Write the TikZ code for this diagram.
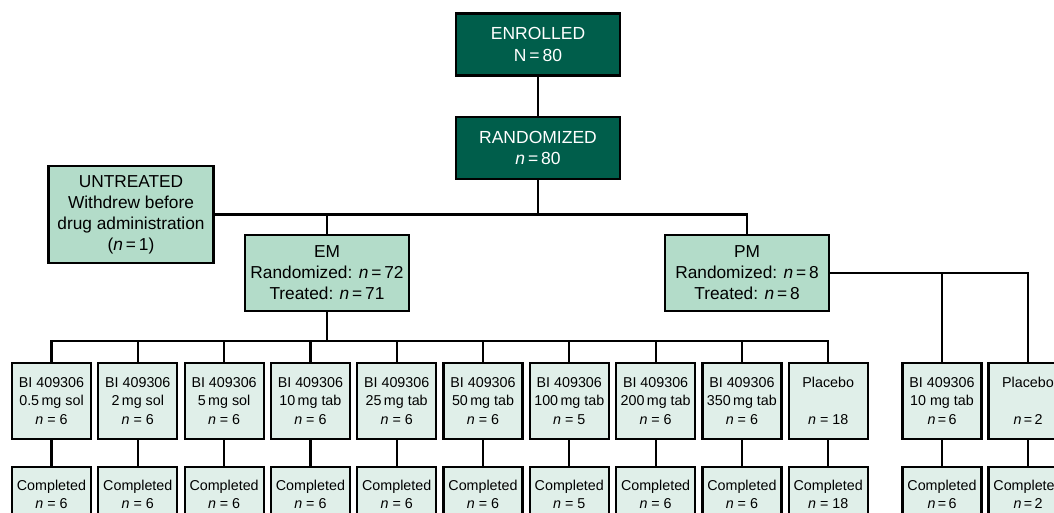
\documentclass[tikz,border=0pt]{standalone}
\usepackage{fontspec}
\setmainfont{Liberation Sans}
\usetikzlibrary{positioning}

\definecolor{dkgreen}{RGB}{0,94,75}
\definecolor{mint}{RGB}{179,220,201}
\definecolor{pale}{RGB}{224,239,233}
\newcommand{\nn}{\textit{n}}

\begin{document}
\begin{tikzpicture}[x=1pt,y=-1pt,line width=2.2pt,
	topbox/.style={draw,fill=dkgreen,text=white,minimum width=164pt,minimum height=62pt,align=center,inner sep=0pt,font=\fontsize{17.5}{21.5}\selectfont},
	groupbox/.style={draw,fill=mint,minimum width=164pt,minimum height=76pt,align=center,inner sep=0pt,font=\fontsize{17.3}{21}\selectfont},
	dosebox/.style={draw,fill=pale,minimum width=79pt,minimum height=76pt,align=center,inner sep=0pt,font=\fontsize{14.3}{18.5}\selectfont},
	donebox/.style={dosebox,minimum height=55pt}]
	\useasboundingbox (0,0) rectangle (1054,513);
	\clip (0,0) rectangle (1054,513);

	\node[topbox] (enrolled) at (538,44.5) {ENROLLED\\N\,=\,80};
	\node[topbox] (randomized) at (538,148) {RANDOMIZED\\\nn\,=\,80};
	\node[groupbox,minimum width=165pt,minimum height=97pt] (untreated) at (131,214.5) {UNTREATED\\Withdrew before\\drug administration\\(\nn\,=\,1)};
	\node[groupbox] (em) at (327,273) {EM\\Randomized: \nn\,=\,72\\Treated: \nn\,=\,71};
	\node[groupbox] (pm) at (747,273) {PM\\Randomized: \nn\,=\,8\\Treated: \nn\,=\,8};

	% EM arm
	\foreach \dose/\num [count=\n] in {0.5/6,2/6,5/6} {
		\node[dosebox] (D\n) at ({51.5+86.3*(\n-1)},401) {BI 409306\\\dose\,mg sol\\\nn{} = \num};
		\node[donebox] (C\n) at ({51.5+86.3*(\n-1)},494.5) {Completed\\\nn{} = \num};
	}
	\foreach \dose/\num [count=\n from 4] in {10/6,25/6,50/6,100/5,200/6,350/6} {
		\node[dosebox] (D\n) at ({51.5+86.3*(\n-1)},401) {BI 409306\\\dose\,mg tab\\\nn{} = \num};
		\node[donebox] (C\n) at ({51.5+86.3*(\n-1)},494.5) {Completed\\\nn{} = \num};
	}
	\node[dosebox] (D10) at (828.2,401) {Placebo\\[18.5pt]\nn{} = 18};
	\node[donebox] (C10) at (828.2,494.5) {Completed\\\nn{} = 18};

	% PM arm
	\node[dosebox] (P1) at (942,401) {BI 409306\\10 mg tab\\\nn\,=\,6};
	\node[donebox] (Q1) at (942,494.5) {Completed\\\nn\,=\,6};
	\node[dosebox] (P2) at (1028,401) {Placebo\\[18.5pt]\nn\,=\,2};
	\node[donebox] (Q2) at (1028,494.5) {Completed\\\nn\,=\,2};

	\draw (enrolled.south) -- (randomized.north);
	\draw (untreated.east) -| (pm.north);
	\draw (randomized.south) -- (randomized.south |- untreated.east);
	\draw (em.north) -- (em.north |- untreated.east);

	\draw (em.south) -- ++(0,29) coordinate (emjoin);
	\draw (D1.north) |- (D10.north |- emjoin) -- (D10.north);
	\foreach \n in {2,...,9}
		\draw (D\n.north) -- (D\n.north |- emjoin);
	\foreach \n in {1,...,10}
		\draw (D\n.south) -- (C\n.north);

	\draw (pm.east) -| (P2.north);
	\draw (P1.north) -- (P1.north |- pm.east);
	\draw (P1.south) -- (Q1.north);
	\draw (P2.south) -- (Q2.north);
\end{tikzpicture}
\end{document}
